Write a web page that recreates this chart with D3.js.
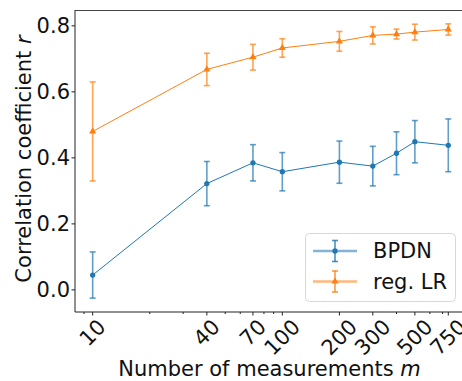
<!DOCTYPE html>
<html>
<head>
<meta charset="utf-8">
<script src="https://cdn.jsdelivr.net/npm/d3@7"></script>
<style>
  body { margin: 0; background: #fff; }
  text { font-family: "DejaVu Sans", sans-serif; }
</style>
</head>
<body>
<div class="container"></div>
<script>
// values
const measurements = [10, 40, 70, 100, 200, 300, 400, 500, 750];
const bpdnMean = [0.045, 0.322, 0.385, 0.358, 0.387, 0.375, 0.414, 0.449, 0.438];
const bpdnErr  = [0.070, 0.067, 0.055, 0.058, 0.064, 0.060, 0.065, 0.064, 0.080];
const lrMean   = [0.480, 0.668, 0.705, 0.733, 0.753, 0.771, 0.775, 0.781, 0.789];
const lrErr    = [0.150, 0.049, 0.039, 0.028, 0.030, 0.026, 0.015, 0.024, 0.017];
const xTicks = [10, 40, 70, 100, 200, 300, 500, 750];
const xMinor = [9, 20, 30, 50, 60, 80, 90, 400, 600, 700];
const yTicks = [0.0, 0.2, 0.4, 0.6, 0.8];

const width = 462, height = 381;
const mLeft = 75, mTop = 10, mRight = 466, mBottom = 312;
const fs = 21;

const svg = d3.select('.container')
  .append('svg')
  .attr('width', width)
  .attr('height', height);

const x = d3.scaleLog().domain([8.07, 930]).range([mLeft, mRight]);
const y = d3.scaleLinear().domain([-0.067, 0.848]).range([mBottom, mTop]);

const series = [
  { name: 'BPDN', color: '#1f77b4', mean: bpdnMean, err: bpdnErr, marker: d3.symbolCircle, size: 22 },
  { name: 'reg. LR', color: '#ff7f0e', mean: lrMean, err: lrErr, marker: d3.symbolTriangle, size: 22 }
];

// error bars, lines and markers
series.forEach(s => {
  const pts = measurements.map((m, i) => ({ m, v: s.mean[i], e: s.err[i] }));
  const g = svg.append('g');

  g.selectAll('line.bar').data(pts).enter().append('line')
    .attr('x1', d => x(d.m)).attr('x2', d => x(d.m))
    .attr('y1', d => y(d.v - d.e)).attr('y2', d => y(d.v + d.e))
    .attr('stroke', s.color).attr('stroke-width', 1.6).attr('opacity', 0.7);

  [-1, 1].forEach(sign => {
    g.selectAll('line.cap' + sign).data(pts).enter().append('line')
      .attr('x1', d => x(d.m) - 3).attr('x2', d => x(d.m) + 3)
      .attr('y1', d => y(d.v + sign * d.e)).attr('y2', d => y(d.v + sign * d.e))
      .attr('stroke', s.color).attr('stroke-width', 1.6).attr('opacity', 0.7);
  });

  g.append('path')
    .datum(pts)
    .attr('fill', 'none')
    .attr('stroke', s.color)
    .attr('stroke-width', 1)
    .attr('d', d3.line().x(d => x(d.m)).y(d => y(d.v)));

  g.selectAll('path.mk').data(pts).enter().append('path')
    .attr('d', d3.symbol().type(s.marker).size(s.size))
    .attr('transform', d => `translate(${x(d.m)},${y(d.v)})`)
    .attr('fill', s.color);
});

// spines
svg.append('line').attr('x1', mLeft).attr('x2', mLeft).attr('y1', mTop).attr('y2', mBottom)
  .attr('stroke', '#222').attr('stroke-width', 1);
svg.append('line').attr('x1', mLeft).attr('x2', mRight).attr('y1', mBottom).attr('y2', mBottom)
  .attr('stroke', '#222').attr('stroke-width', 1);
svg.append('line').attr('x1', mLeft).attr('x2', mRight).attr('y1', mTop + 0.5).attr('y2', mTop + 0.5)
  .attr('stroke', '#444').attr('stroke-width', 1);

// y axis
const yAxis = svg.append('g');
yTicks.forEach(t => {
  yAxis.append('line').attr('x1', mLeft - 3.5).attr('x2', mLeft)
    .attr('y1', y(t)).attr('y2', y(t)).attr('stroke', '#222');
  yAxis.append('text').attr('x', mLeft - 5).attr('y', y(t))
    .attr('text-anchor', 'end').attr('dominant-baseline', 'central')
    .attr('font-size', fs).attr('fill', '#111')
    .text(d3.format('.1f')(t));
});

// x axis
const xAxis = svg.append('g');
xMinor.forEach(t => {
  xAxis.append('line').attr('x1', x(t)).attr('x2', x(t))
    .attr('y1', mBottom).attr('y2', mBottom + 2).attr('stroke', '#222');
});
xTicks.forEach(t => {
  xAxis.append('line').attr('x1', x(t)).attr('x2', x(t))
    .attr('y1', mBottom).attr('y2', mBottom + 3.5).attr('stroke', '#222');
  const lbl = xAxis.append('text')
    .attr('text-anchor', 'middle').attr('dominant-baseline', 'central')
    .attr('font-size', fs).attr('fill', '#111')
    .text(t);
  const w = lbl.node().getComputedTextLength();
  const h = (w + 15) / Math.SQRT2;
  lbl.attr('transform', `translate(${x(t)},${mBottom + 6 + h / 2}) rotate(-45)`);
});

// axis titles
svg.append('text')
  .attr('x', (mLeft + mRight) / 2 - 1).attr('y', 376)
  .attr('text-anchor', 'middle').attr('font-size', fs).attr('fill', '#111')
  .html('Number of measurements <tspan font-style="italic">m</tspan>');

svg.append('text')
  .attr('transform', `translate(31,${(mTop + mBottom) / 2 - 2}) rotate(-90)`)
  .attr('text-anchor', 'middle').attr('font-size', fs).attr('fill', '#111')
  .html('Correlation coefficient <tspan font-style="italic">r</tspan>');

// legend
const legend = svg.append('g');
legend.append('rect')
  .attr('x', 305.5).attr('y', 233.5).attr('width', 150).attr('height', 68)
  .attr('rx', 4).attr('fill', '#fff').attr('fill-opacity', 0.8)
  .attr('stroke', '#d8d8d8').attr('stroke-width', 1);

series.forEach((s, i) => {
  const cy = 251 + i * 30.5;
  const cx = 335;
  legend.append('line').attr('x1', 313).attr('x2', 357).attr('y1', cy).attr('y2', cy)
    .attr('stroke', s.color).attr('stroke-width', 2.5).attr('opacity', 0.55);
  legend.append('line').attr('x1', cx).attr('x2', cx).attr('y1', cy - 10.5).attr('y2', cy + 10.5)
    .attr('stroke', s.color).attr('stroke-width', 1.6).attr('opacity', 0.8);
  [-10.5, 10.5].forEach(dy => {
    legend.append('line').attr('x1', cx - 3).attr('x2', cx + 3).attr('y1', cy + dy).attr('y2', cy + dy)
      .attr('stroke', s.color).attr('stroke-width', 1.6).attr('opacity', 0.8);
  });
  legend.append('path')
    .attr('d', d3.symbol().type(s.marker).size(s.size))
    .attr('transform', `translate(${cx},${cy})`)
    .attr('fill', s.color);
  legend.append('text').attr('x', 373).attr('y', cy)
    .attr('dominant-baseline', 'central').attr('font-size', fs).attr('fill', '#111')
    .text(s.name);
});
</script>
</body>
</html>
